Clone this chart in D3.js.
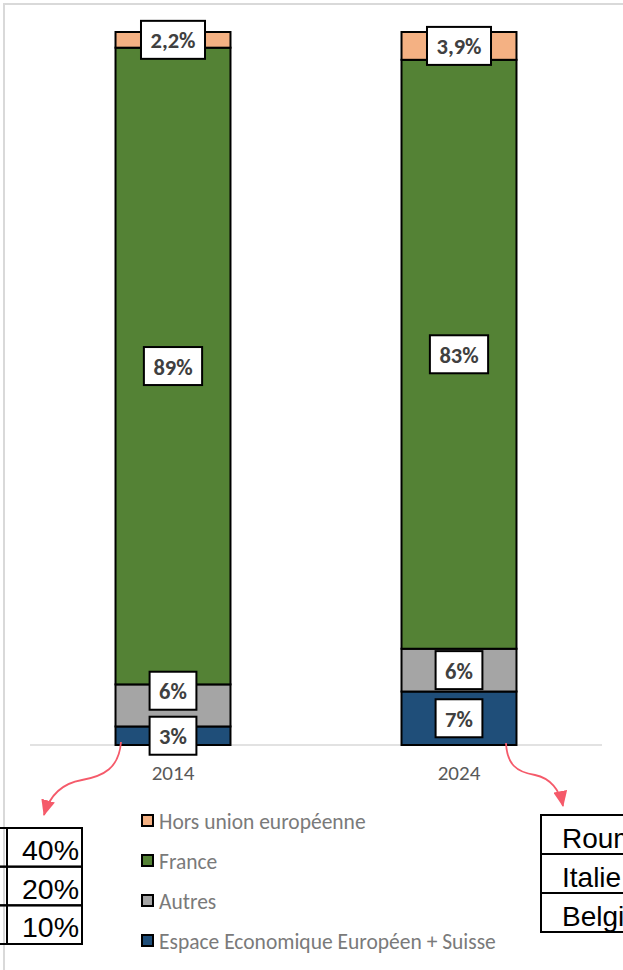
<!DOCTYPE html>
<html>
<head>
<meta charset="utf-8">
<script src="https://cdn.jsdelivr.net/npm/d3@7/dist/d3.min.js"></script>
<style>
  html, body { margin: 0; padding: 0; background: #fff; overflow: hidden; }
  svg { display: block; }
</style>
</head>
<body>
<svg id="chart" width="623" height="970"></svg>
<script>
// ---------- DATA ----------
const years = ["2014", "2024"];
const seriesNames = ["Espace Economique Européen + Suisse", "Autres", "France", "Hors union européenne"];
const eeeValues = [2.6, 7.5];
const autresValues = [5.9, 6.0];
const franceValues = [89.3, 82.6];
const horsValues = [2.2, 3.9];
const eeeLabels = ["3%", "7%"];
const autresLabels = ["6%", "6%"];
const franceLabels = ["89%", "83%"];
const horsLabels = ["2,2%", "3,9%"];
const seriesColors = ["#1F4E79", "#A5A5A5", "#548235", "#F4B183"];
const legendOrder = ["Hors union européenne", "France", "Autres", "Espace Economique Européen + Suisse"];
const leftTableValues = ["40%", "20%", "10%"];
const rightTableLabels = ["Roumanie", "Italie", "Belgique"];

// ---------- SETUP ----------
const svg = d3.select("#chart");
const FONT = "Carlito, Calibri, Lato, sans-serif";

const seriesValues = [eeeValues, autresValues, franceValues, horsValues];
const seriesLabels = [eeeLabels, autresLabels, franceLabels, horsLabels];

const rows = years.map((y, i) => {
  const r = { year: y };
  seriesNames.forEach((s, k) => { r[s] = seriesValues[k][i]; });
  return r;
});
const stacked = d3.stack().keys(seriesNames)(rows);

const x = d3.scaleBand().domain(years).range([30, 602]).paddingInner(0.598).paddingOuter(0.299);
const y = d3.scaleLinear().domain([0, 100]).range([745, 32]);

// frame
svg.append("path")
  .attr("d", "M4,970 L4,4 L623,4")
  .attr("fill", "none").attr("stroke", "#D9D9D9").attr("stroke-width", 2);

// axis line
svg.append("line")
  .attr("x1", 30).attr("x2", 602).attr("y1", 745).attr("y2", 745)
  .attr("stroke", "#D9D9D9").attr("stroke-width", 1.5);

// bars
stacked.forEach((layer, k) => {
  svg.append("g").selectAll("rect").data(layer).join("rect")
    .attr("x", d => x(d.data.year))
    .attr("width", x.bandwidth())
    .attr("y", d => y(d[1]))
    .attr("height", d => y(d[0]) - y(d[1]))
    .attr("fill", seriesColors[k])
    .attr("stroke", "#000").attr("stroke-width", 2);
});

// x axis labels
const xAxis = d3.axisBottom(x).tickSize(0).tickPadding(0);
const gx = svg.append("g").attr("transform", "translate(0,745)").call(xAxis);
gx.select(".domain").remove();
gx.selectAll("text")
  .attr("y", 0).attr("dy", 0)
  .attr("transform", "translate(0,35)")
  .attr("font-family", FONT).attr("font-size", 21).attr("fill", "#595959");

// data labels with overlap resolution (bottom-up)
const BOX_H = 38, PAD = 9.5, GAP = 7;
years.forEach((yr, i) => {
  let prevTop = Infinity;
  stacked.forEach((layer, k) => {
    const d = layer[i];
    let cy = (y(d[0]) + y(d[1])) / 2;
    if (cy + BOX_H / 2 > prevTop - GAP && k > 0) cy = prevTop - GAP - BOX_H / 2;
    prevTop = cy - BOX_H / 2;
    const g = svg.append("g");
    const t = g.append("text")
      .attr("x", x(yr) + x.bandwidth() / 2).attr("y", cy + 1)
      .attr("text-anchor", "middle").attr("dominant-baseline", "central")
      .attr("font-family", FONT).attr("font-weight", "bold").attr("font-size", 22.5)
      .attr("fill", "#404040")
      .text(seriesLabels[k][i]);
    const w = t.node().getComputedTextLength() + 2 * PAD;
    g.insert("rect", "text")
      .attr("x", x(yr) + x.bandwidth() / 2 - w / 2).attr("y", cy - BOX_H / 2)
      .attr("width", w).attr("height", BOX_H)
      .attr("fill", "#fff").attr("stroke", "#000").attr("stroke-width", 2);
  });
});

// legend
const legY = d3.scalePoint().domain(legendOrder).range([821, 941]);
const leg = svg.append("g");
legendOrder.forEach(name => {
  const k = seriesNames.indexOf(name);
  leg.append("rect")
    .attr("x", 142).attr("y", legY(name) - 6).attr("width", 11).attr("height", 11)
    .attr("fill", seriesColors[k]).attr("stroke", "#000").attr("stroke-width", 2);
  leg.append("text")
    .attr("x", 159).attr("y", legY(name) + 1).attr("dominant-baseline", "central")
    .attr("font-family", FONT).attr("font-size", 21.5).attr("fill", "#7A7A7A")
    .text(name);
});

// arrows
const ARROW = "#F55A6A";
const defs = svg.append("defs");
defs.append("marker").attr("id", "ah")
  .attr("viewBox", "0 -7 16 14").attr("refX", 15).attr("refY", 0)
  .attr("markerUnits", "userSpaceOnUse").attr("markerWidth", 16).attr("markerHeight", 14)
  .attr("orient", "auto")
  .append("path").attr("d", "M0,-7 L16,0 L0,7 Z").attr("fill", ARROW);
svg.append("path")
  .attr("d", "M121,742 C119,768 104,776 82,780 C64,783 50,794 44,815")
  .attr("fill", "none").attr("stroke", ARROW).attr("stroke-width", 1.8)
  .attr("marker-end", "url(#ah)");
svg.append("path")
  .attr("d", "M506,743 C507,764 516,772 535,775 C550,778 560,790 563,806")
  .attr("fill", "none").attr("stroke", ARROW).attr("stroke-width", 1.8)
  .attr("marker-end", "url(#ah)");

// left table (partially visible)
const tRowL = d3.scaleBand().domain(leftTableValues).range([828, 944]);
const lt = svg.append("g");
leftTableValues.forEach(v => {
  lt.append("rect")
    .attr("x", -60).attr("y", tRowL(v)).attr("width", 67).attr("height", tRowL.bandwidth())
    .attr("fill", "none").attr("stroke", "#000").attr("stroke-width", 2);
  lt.append("rect")
    .attr("x", 7).attr("y", tRowL(v)).attr("width", 75).attr("height", tRowL.bandwidth())
    .attr("fill", "none").attr("stroke", "#000").attr("stroke-width", 2);
  lt.append("text")
    .attr("x", 79).attr("y", tRowL(v) + 32).attr("text-anchor", "end")
    .attr("font-family", "Liberation Sans, Arial, sans-serif").attr("font-size", 28.5).attr("fill", "#000")
    .text(v);
});

// right table (partially visible)
const tRowR = d3.scaleBand().domain(rightTableLabels).range([815, 932]);
const rt = svg.append("g");
rightTableLabels.forEach(v => {
  rt.append("rect")
    .attr("x", 541).attr("y", tRowR(v)).attr("width", 160).attr("height", tRowR.bandwidth())
    .attr("fill", "none").attr("stroke", "#000").attr("stroke-width", 2);
  rt.append("text")
    .attr("x", 562).attr("y", tRowR(v) + 33)
    .attr("font-family", "Liberation Sans, Arial, sans-serif").attr("font-size", 28).attr("fill", "#000")
    .text(v);
});
</script>
</body>
</html>
